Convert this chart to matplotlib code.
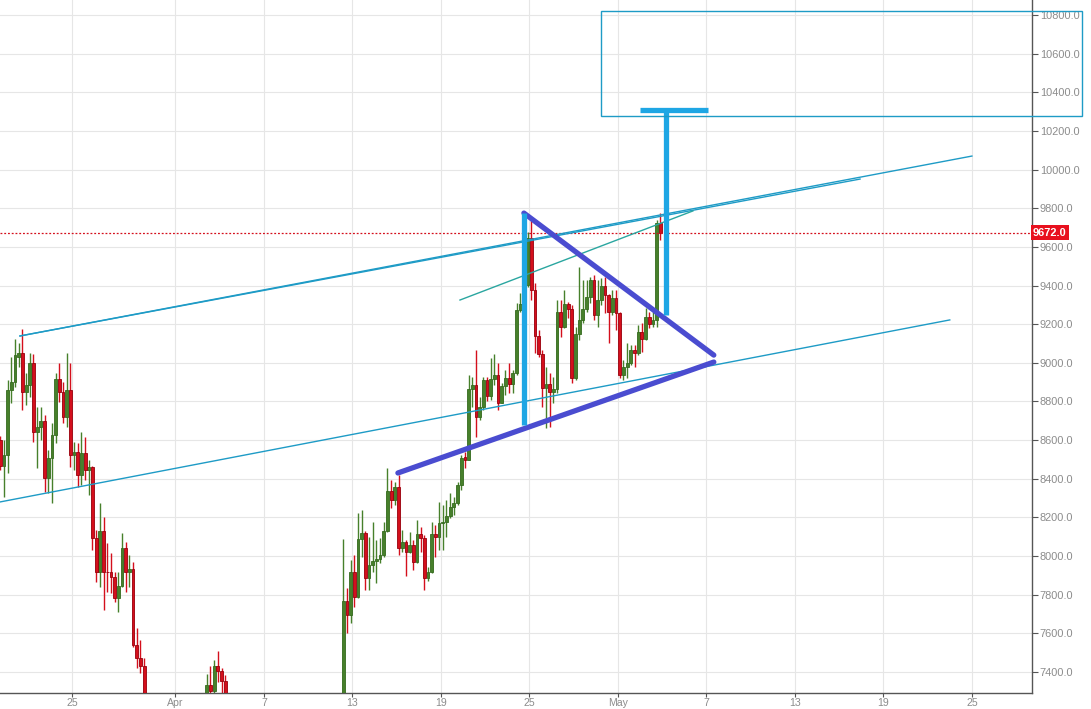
import numpy as np
import pandas as pd
import matplotlib
matplotlib.use('Agg')
import matplotlib.pyplot as plt
import matplotlib.dates as mdates
import matplotlib.transforms as mtransforms

# --- Données : bougies 6h BTC (mars-mai 2018) ---
nan = np.nan
START = '2018-03-20 03:00'
LAST_PRICE = 9672.0

open_price = [
    8602, 8468, 8525, 8861, 8902, 9032, 9052, 8850, 8887, 9000,
    8644, 8670, 8701, 8406, 8509, 8628, 8918, 8850, 8721, 8861,
    8525, 8540, 8421, 8535, 8447, 8463, 8096, 7920, 8132, 7920,
    7915, 7894, 7785, 7847, 8044, 7920, 7935, 7542, 7475, 7429,
] + [nan] * 16 + [
    7280, 7335, 7304, 7429, 7403, 7356,
] + [nan] * 31 + [
    7200, 7770, 7697, 7915, 7790, 8090, 8121, 7889, 7956, 7977,
    7987, 8008, 8132, 8339, 8292, 8359, 8044, 8075, 8023, 8059,
    7971, 8116, 8096, 7889, 7915, 8116, 8101, 8173, 8178, 8209,
    8256, 8277, 8370, 8514, 8499, 8866, 8887, 8721, 8773, 8913,
    8830, 8918, 8938, 8794, 8882, 8923, 8892, 8949, 9275, 9306,
    9404, 9647, 9378, 9140, 9047, 8871, 8892, 8850, 8866, 9264,
    9187, 9306, 9280, 8923, 9150, 9223, 9280, 9342, 9430, 9249,
    9326, 9399, 9352, 9264, 9337, 9259, 8939, 8980, 9000, 9068,
    9052, 9161, 9125, 9238, 9202, 9223, 9724,
]
high_price = [
    8620, 8602, 8913, 9032, 9125, 9104, 9176, 8949, 9052, 9047,
    8773, 8773, 8732, 8551, 8690, 8949, 9000, 8902, 9052, 9000,
    8592, 8587, 8644, 8618, 8499, 8468, 8137, 8277, 8204, 8070,
    8018, 7920, 7915, 8121, 8075, 8008, 7971, 7630, 7568, 7475,
] + [nan] * 16 + [
    7392, 7429, 7460, 7511, 7423, 7387,
] + [nan] * 31 + [
    8090, 7837, 7982, 8003, 8225, 8240, 8132, 8101, 8178, 8085,
    8096, 8178, 8458, 8395, 8385, 8421, 8137, 8085, 8127, 8085,
    8189, 8152, 8111, 7946, 8178, 8163, 8282, 8266, 8292, 8328,
    8308, 8385, 8525, 8540, 8938, 8928, 9068, 8825, 8928, 8928,
    9026, 9047, 9000, 8897, 8964, 9000, 8964, 9311, 9362, 9420,
    9678, 9740, 9414, 9171, 9068, 8980, 8949, 8928, 9326, 9326,
    9378, 9316, 9300, 9187, 9497, 9430, 9430, 9445, 9456, 9430,
    9440, 9445, 9357, 9378, 9378, 9264, 9016, 9104, 9094, 9094,
    9197, 9207, 9285, 9264, 9264, 9740, 9776,
]
low_price = [
    8445, 8308, 8432, 8794, 8876, 8980, 8757, 8783, 8825, 8592,
    8458, 8602, 8333, 8328, 8277, 8587, 8799, 8690, 8670, 8463,
    8447, 8359, 8370, 8395, 8318, 8033, 7868, 7842, 7723, 7816,
    7811, 7760, 7708, 7842, 7816, 7842, 7527, 7423, 7397, 7150,
] + [nan] * 16 + [
    7230, 7260, 7270, 7346, 7290, 7200,
] + [nan] * 31 + [
    7150, 7604, 7656, 7739, 7785, 7997, 7827, 7827, 7920, 7863,
    7966, 7997, 8127, 8251, 8266, 8003, 8023, 7899, 8018, 7930,
    7966, 8023, 7827, 7873, 7910, 7997, 8033, 8033, 8101, 8199,
    8215, 8266, 8344, 8458, 8495, 8773, 8618, 8706, 8757, 8804,
    8809, 8887, 8757, 8790, 8835, 8846, 8846, 8938, 9264, 9280,
    9394, 9326, 9052, 9032, 8773, 8664, 8670, 8790, 8845, 9135,
    9182, 9233, 8897, 8913, 9119, 9207, 9264, 9311, 9223, 9187,
    9300, 9259, 9104, 9249, 9171, 8923, 8913, 8923, 8990, 8980,
    9040, 9057, 9119, 9182, 9187, 9187, 9637,
]
close_price = [
    8468, 8525, 8861, 8902, 9042, 9052, 8850, 8887, 9000, 8644,
    8670, 8701, 8406, 8509, 8628, 8918, 8850, 8721, 8861, 8525,
    8540, 8421, 8535, 8447, 8463, 8096, 7920, 8132, 7920, 7915,
    7894, 7785, 7847, 8044, 7920, 7935, 7542, 7475, 7429, 7200,
] + [nan] * 16 + [
    7335, 7304, 7429, 7403, 7356, 7260,
] + [nan] * 31 + [
    7770, 7697, 7915, 7790, 8090, 8121, 7889, 7956, 7977, 7987,
    8008, 8132, 8339, 8292, 8359, 8044, 8075, 8023, 8059, 7971,
    8116, 8096, 7889, 7915, 8116, 8101, 8173, 8178, 8209, 8256,
    8277, 8370, 8509, 8499, 8866, 8887, 8721, 8773, 8913, 8830,
    8918, 8938, 8794, 8882, 8923, 8892, 8949, 9275, 9306, 9404,
    9647, 9378, 9140, 9047, 8871, 8892, 8850, 8866, 9264, 9187,
    9306, 9280, 8923, 9150, 9223, 9280, 9342, 9430, 9249, 9326,
    9399, 9352, 9264, 9337, 9259, 8939, 8980, 9000, 9068, 9052,
    9161, 9125, 9238, 9202, 9223, 9724, 9672,
]

# --- Dessins (date, prix) ---
channel_top_a = (['2018-03-21 11:00', '2018-05-25 00:00'], [9139, 10070])
channel_top_b = (['2018-03-21 11:00', '2018-05-17 10:00'], [9139, 9951])
channel_low = (['2018-03-20 02:30', '2018-05-23 12:00'], [8280, 9222])
teal_line = (['2018-04-20 07:00', '2018-05-06 02:00'], [9325, 9786])
tri_upper = (['2018-04-24 15:00', '2018-05-07 12:00'], [9775, 9040])
tri_lower = (['2018-04-16 02:00', '2018-05-07 12:00'], [8430, 9004])
pole_left = (['2018-04-24 15:00', '2018-04-24 15:00'], [9775, 8678])
pole_right = (['2018-05-04 06:00', '2018-05-04 06:00'], [10308, 9248])
pole_cap = (['2018-05-02 12:00', '2018-05-07 02:00'], [10308, 10308])
target_box = (['2018-04-29 20:00', '2018-06-01 11:00'], [10277, 10821])

GREEN, GREEN_EDGE = '#47802b', '#356b1e'
RED, RED_EDGE = '#d40f1c', '#98000c'
CYAN = '#1e9bc6'
TEAL = '#2aa6a0'
INDIGO = '#4a4cd0'
SKY = '#1ea6e4'
TXT = '#8c8c8c'


def dnum(dates):
    return mdates.date2num(pd.to_datetime(dates).to_pydatetime())


fig = plt.figure(figsize=(10.91, 7.09), dpi=100)
ax = fig.add_axes([0, 16 / 709, 1031.5 / 1091, 693 / 709])

times = pd.date_range(START, periods=len(open_price), freq='6h')
x = dnum(times)
o, h, l, c = (np.array(v, dtype=float) for v in (open_price, high_price, low_price, close_price))
valid = ~np.isnan(o)
up = valid & (c >= o)
down = valid & (c < o)

for mask, face, edge in [(up, GREEN, GREEN_EDGE), (down, RED, RED_EDGE)]:
    ax.vlines(x[mask], l[mask], h[mask], color=face, lw=1.0, zorder=2)
    ax.bar(x[mask], np.maximum(np.abs(c - o)[mask], 5), 0.19,
           bottom=np.minimum(o, c)[mask], color=face, edgecolor=edge,
           linewidth=0.6, zorder=3)

# ligne du dernier prix
ax.axhline(LAST_PRICE, color='#d40f1c', lw=0.9, ls=(0, (1.5, 1.5)), zorder=4)

# canaux et triangle
for (d, p), col, lw in [(channel_top_a, CYAN, 1.0), (channel_top_b, CYAN, 1.0),
                        (channel_low, CYAN, 1.0), (teal_line, TEAL, 1.0)]:
    ax.plot(dnum(d), p, color=col, lw=lw, zorder=5)
for d, p in [tri_upper, tri_lower]:
    ax.plot(dnum(d), p, color=INDIGO, lw=3.8, solid_capstyle='round', zorder=6)
for d, p in [pole_left, pole_right, pole_cap]:
    ax.plot(dnum(d), p, color=SKY, lw=3.8, solid_capstyle='butt', zorder=7)

bx = dnum(target_box[0])
ax.add_patch(plt.Rectangle((bx[0], target_box[1][0]), bx[1] - bx[0],
                           target_box[1][1] - target_box[1][0],
                           fill=False, edgecolor=CYAN, lw=1.0, clip_on=False, zorder=8))

# axes
base = mdates.date2num(pd.Timestamp('2018-03-25').to_pydatetime())
ax.set_xlim(base - 4.895, base + 65.04)
ax.set_ylim(7291.4, 10877.6)

ax.xaxis.set_major_locator(mdates.DayLocator(bymonthday=[1, 7, 13, 19, 25]))
ax.xaxis.set_major_formatter(plt.FuncFormatter(
    lambda v, pos: mdates.num2date(v).strftime('%b') if mdates.num2date(v).day == 1
    else str(mdates.num2date(v).day)))
ax.set_yticks(np.arange(7400, 10801, 200))
ax.yaxis.set_major_formatter(plt.FuncFormatter(lambda v, pos: f'{v:.1f}'))
ax.yaxis.tick_right()

ax.grid(True, color='#e6e6e6', lw=0.8, zorder=0)
ax.set_axisbelow(True)
for s in ['left', 'top']:
    ax.spines[s].set_visible(False)
for s in ['right', 'bottom']:
    ax.spines[s].set_color('#555555')
    ax.spines[s].set_linewidth(1.0)
ax.tick_params(axis='y', colors='#555555', labelcolor=TXT, labelsize=7.9, length=4, width=0.8, pad=2)
ax.tick_params(axis='x', colors='#555555', labelcolor=TXT, labelsize=7.6, length=3, width=0.8, pad=0.5)
for lab in ax.get_xticklabels() + ax.get_yticklabels():
    lab.set_family('Liberation Sans')

trans = mtransforms.blended_transform_factory(ax.transAxes, ax.transData)
ax.text(1.0015, LAST_PRICE, f'{LAST_PRICE:.1f}', transform=trans, ha='left', va='center',
        color='white', fontsize=7.9, fontweight='bold', family='Liberation Sans',
        bbox=dict(facecolor='#e8101e', edgecolor='none', pad=1.8), zorder=10, clip_on=False)

fig.savefig('out.png', dpi=100, facecolor='white')
